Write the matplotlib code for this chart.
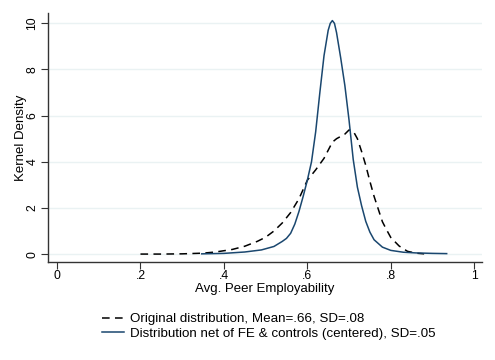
import matplotlib
matplotlib.use("Agg")
import matplotlib.pyplot as plt

plt.rcParams["font.family"] = ["Liberation Sans", "DejaVu Sans"]

# original distribution (dashed)
orig_x = [0.20, 0.25, 0.30, 0.35, 0.38, 0.42, 0.45, 0.48, 0.50, 0.52, 0.54,
          0.56, 0.58, 0.60, 0.62, 0.64, 0.65, 0.66, 0.67, 0.68, 0.69, 0.70,
          0.71, 0.72, 0.73, 0.74, 0.75, 0.76, 0.77, 0.78, 0.79, 0.80, 0.82,
          0.84, 0.86, 0.88]
orig_y = [0.0, 0.0, 0.01, 0.04, 0.09, 0.2, 0.34, 0.55, 0.73, 1.0, 1.35,
          1.8, 2.4, 3.2, 3.65, 4.15, 4.5, 4.85, 5.0, 5.1, 5.2, 5.38,
          5.33, 5.0, 4.45, 3.85, 3.15, 2.5, 1.95, 1.4, 1.05, 0.72, 0.35,
          0.12, 0.04, 0.01]

# net of FE & controls (solid)
net_x = [0.347, 0.40, 0.45, 0.49, 0.52, 0.54, 0.55, 0.56, 0.57, 0.58, 0.59,
         0.60, 0.61, 0.62, 0.63, 0.64, 0.65, 0.655, 0.66, 0.665, 0.67, 0.68,
         0.69, 0.70, 0.71, 0.72, 0.73, 0.74, 0.75, 0.76, 0.78, 0.80, 0.83,
         0.86, 0.90, 0.934]
net_y = [0.01, 0.03, 0.09, 0.18, 0.33, 0.55, 0.68, 0.9, 1.3, 1.85, 2.5,
         3.2, 4.0, 5.3, 7.0, 8.6, 9.7, 10.0, 10.12, 10.0, 9.6, 8.5,
         7.3, 5.8, 4.1, 2.9, 2.1, 1.42, 0.95, 0.62, 0.3, 0.16, 0.08,
         0.05, 0.03, 0.02]

x_ticks = [0, 0.2, 0.4, 0.6, 0.8, 1]
x_labels = ["0", ".2", ".4", ".6", ".8", "1"]
y_ticks = [0, 2, 4, 6, 8, 10]

fig = plt.figure(figsize=(4.95, 3.6), dpi=100)
ax = fig.add_axes([0.097, 0.272, 0.877, 0.692])

for yt in y_ticks:
    ax.axhline(yt, color="#eaf2f3", lw=1.0, zorder=0)

l1, = ax.plot(orig_x, orig_y, color="black", lw=1.1, ls=(0, (5, 3.5)))
l2, = ax.plot(net_x, net_y, color="#1a476f", lw=1.1)

ax.set_xlim(-0.0216, 1.019)
ax.set_ylim(-0.347, 10.45)
ax.set_xticks(x_ticks)
ax.set_xticklabels(x_labels)
ax.set_yticks(y_ticks)
ax.set_yticklabels([str(v) for v in y_ticks], rotation=90, va="center")

for s in ["top", "right"]:
    ax.spines[s].set_visible(False)
for s in ["left", "bottom"]:
    ax.spines[s].set_color("#333333")
    ax.spines[s].set_linewidth(1.0)
ax.tick_params(axis="both", direction="out", length=5, width=0.8,
               color="#333333", labelsize=8.8)
ax.tick_params(axis="x", pad=1)
ax.tick_params(axis="y", pad=2)

ax.set_xlabel("Avg. Peer Employability", fontsize=9.5, labelpad=0.5)
ax.set_ylabel("Kernel Density", fontsize=9.5, labelpad=-0.5)

fig.legend([l1, l2],
           ["Original distribution, Mean=.66, SD=.08",
            "Distribution net of FE & controls (centered), SD=.05"],
           loc="upper left", bbox_to_anchor=(0.206, 0.131), frameon=False,
           fontsize=9.6, handlelength=1.65, handletextpad=0.45,
           labelspacing=0.15, borderpad=0, borderaxespad=0)

fig.savefig("out.png", dpi=100)
